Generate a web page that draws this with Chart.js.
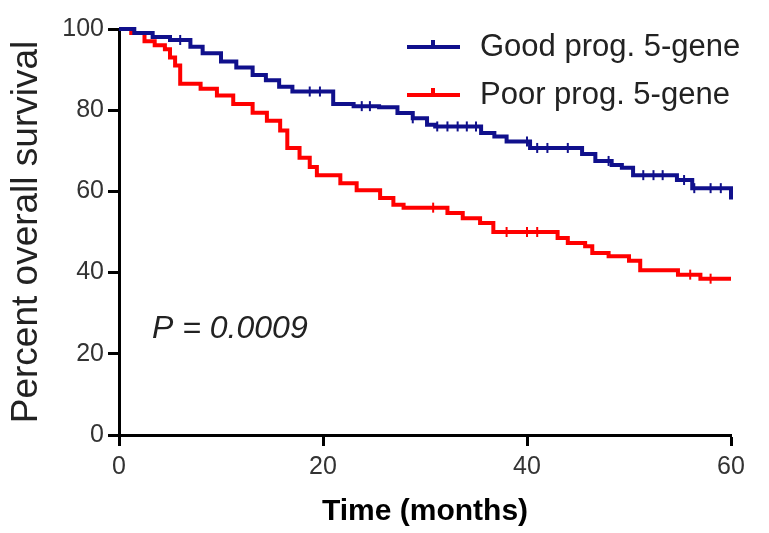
<!DOCTYPE html>
<html>
<head>
<meta charset="utf-8">
<script src="https://cdn.jsdelivr.net/npm/chart.js@4"></script>
<style>
  html, body { margin: 0; padding: 0; background: #fff; }
  #wrap { width: 769px; height: 533px; }
</style>
</head>
<body>
<div id="wrap"><canvas id="graph"></canvas></div>
<script>
// Kaplan-Meier curves (time in months, percent surviving after each step)
var goodTime = [0, 1.5, 3.3, 5, 7, 8.2, 10, 11.5, 13.1, 14.4, 15.7, 17, 21, 23, 25.5, 27.3, 28.8, 30.2, 31, 35.5, 36.8, 38, 40.3, 45.4, 46.7, 48.3, 49.3, 50.4, 54.7, 56.2, 60, 60];
var goodSurv = [100, 99, 98, 97.3, 95.6, 94, 92, 90.5, 88.7, 87.4, 85.8, 84.6, 81.5, 81, 80.7, 79.3, 78, 76.4, 76, 74.4, 73.5, 72.3, 70.7, 69.2, 67.5, 66.5, 65.8, 64, 62.8, 60.8, 60.8, 58];
var goodCensor = [6, 18.7, 19.7, 23.8, 24.6, 28.8, 31.2, 32.2, 33.2, 34.1, 35, 40, 41, 42, 44, 48, 51.4, 52.4, 53.3, 55.4, 56.4, 58, 59];

var poorTime = [0, 1.2, 2.5, 3.5, 4.5, 5, 5.5, 6, 8, 9.6, 11.2, 13.1, 14.5, 15.8, 16.5, 17.7, 18.7, 19.4, 21.7, 23.3, 25.6, 26.9, 27.9, 32.2, 33.7, 35.4, 36.7, 43, 44, 45.7, 46.4, 48, 50, 51.1, 54.8, 57, 60];
var poorSurv = [100, 99, 97, 96, 95, 93, 91, 86.5, 85.3, 83.6, 81.5, 79.4, 77.4, 75, 70.7, 68.3, 66, 64, 62, 60.3, 58.4, 56.7, 56, 54.7, 53.4, 52.2, 50, 48.5, 47.3, 46.5, 44.8, 44, 42.9, 40.6, 39.5, 38.5, 38.5];
var poorCensor = [30.8, 38, 40, 41, 56, 58];

var seriesLabels = ['Good prog. 5-gene', 'Poor prog. 5-gene'];
var seriesColors = ['#10108c', '#ff0000'];
var xTicks = [0, 20, 40, 60];
var yTicks = [0, 20, 40, 60, 80, 100];
var pText = 'P = 0.0009';

function toPoints(times, values) {
    return times.map(function (t, i) { return { x: t, y: values[i] }; });
}

// y value of a step curve at time t (puts censor marks on the curve)
function survAt(times, values, t) {
    var v = values[0];
    for (var i = 0; i < times.length; i++) {
        if (times[i] <= t) v = values[i];
    }
    return v;
}

function censorPoints(cens, times, values) {
    return cens.map(function (t) { return { x: t, y: survAt(times, values, t) }; });
}

// legend + p-value drawn inside the plot
var overlayPlugin = {
    id: 'overlay',
    afterDraw: function (chart) {
        var ctx = chart.ctx;
        ctx.save();
        var rows = [47, 95];
        seriesLabels.forEach(function (lab, i) {
            var y = rows[i];
            ctx.strokeStyle = seriesColors[i];
            ctx.lineWidth = 4;
            ctx.beginPath();
            ctx.moveTo(407, y);
            ctx.lineTo(460, y);
            ctx.moveTo(433, y);
            ctx.lineTo(433, y - 7);
            ctx.stroke();
            ctx.fillStyle = '#222';
            ctx.font = '31px "Liberation Sans", Arial, sans-serif';
            ctx.textBaseline = 'middle';
            ctx.textAlign = 'left';
            ctx.fillText(lab, 480, y);
        });
        ctx.font = 'italic 32px "Liberation Sans", Arial, sans-serif';
        ctx.fillStyle = '#222';
        ctx.textBaseline = 'middle';
        ctx.fillText(pText, 152, 329);
        ctx.restore();
    }
};

var ctx = document.getElementById('graph').getContext('2d');
var chart = new Chart(ctx, {
    type: 'line',
    data: {
        datasets: [
            {
                label: seriesLabels[0],
                data: toPoints(goodTime, goodSurv),
                borderColor: seriesColors[0],
                borderWidth: 4,
                stepped: true,
                pointRadius: 0,
                fill: false,
                clip: false
            },
            {
                label: seriesLabels[1],
                data: toPoints(poorTime, poorSurv),
                borderColor: seriesColors[1],
                borderWidth: 4,
                stepped: true,
                pointRadius: 0,
                fill: false,
                clip: false
            },
            {
                label: 'censor good',
                data: censorPoints(goodCensor, goodTime, goodSurv),
                showLine: false,
                pointStyle: 'line',
                rotation: 90,
                pointRadius: 5,
                borderWidth: 2,
                borderColor: seriesColors[0],
                clip: false
            },
            {
                label: 'censor poor',
                data: censorPoints(poorCensor, poorTime, poorSurv),
                showLine: false,
                pointStyle: 'line',
                rotation: 90,
                pointRadius: 5,
                borderWidth: 2,
                borderColor: seriesColors[1],
                clip: false
            }
        ]
    },
    options: {
        responsive: true,
        maintainAspectRatio: false,
        animation: false,
        layout: {
            padding: { top: 29, right: 38, left: 0, bottom: 0 }
        },
        scales: {
            x: {
                type: 'linear',
                min: 0,
                max: 60,
                afterFit: function (scale) { scale.height = 98; },
                afterBuildTicks: function (scale) {
                    scale.ticks = xTicks.map(function (v) { return { value: v }; });
                },
                border: { color: '#000', width: 3 },
                grid: { drawOnChartArea: false, tickLength: 11, tickColor: '#000', tickWidth: 3 },
                ticks: {
                    color: '#333',
                    padding: 6,
                    maxRotation: 0,
                    font: { size: 25, family: '"Liberation Sans", Arial, sans-serif' }
                },
                title: {
                    display: true,
                    text: 'Time (months)',
                    color: '#000',
                    padding: { top: 0, bottom: 3 },
                    font: { size: 30, weight: 'bold', family: '"Liberation Sans", Arial, sans-serif' }
                }
            },
            y: {
                min: 0,
                max: 100,
                afterFit: function (scale) { scale.width = 119; },
                afterBuildTicks: function (scale) {
                    scale.ticks = yTicks.map(function (v) { return { value: v }; });
                },
                border: { color: '#000', width: 3 },
                grid: { drawOnChartArea: false, tickLength: 11, tickColor: '#000', tickWidth: 3 },
                ticks: {
                    color: '#333',
                    padding: 4,
                    font: { size: 25, family: '"Liberation Sans", Arial, sans-serif' }
                },
                title: {
                    display: true,
                    text: 'Percent overall survival',
                    color: '#222',
                    padding: { top: 5, bottom: 0 },
                    font: { size: 37, family: '"Liberation Sans", Arial, sans-serif' }
                }
            }
        },
        plugins: {
            legend: { display: false },
            tooltip: { enabled: false }
        }
    },
    plugins: [overlayPlugin]
});
</script>
</body>
</html>
